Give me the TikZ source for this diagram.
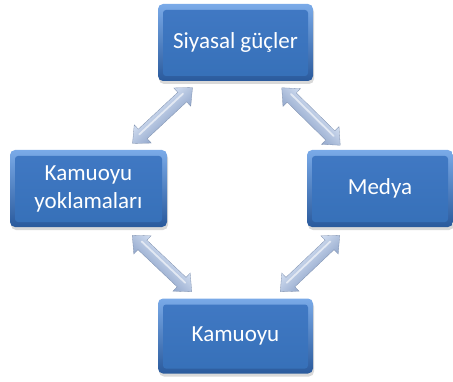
\documentclass[tikz,border=0pt]{standalone}
\usepackage{fontspec}
\setmainfont{Carlito}
\usetikzlibrary{shadows,calc}
\definecolor{boxtop}{HTML}{7AAAE8}
\definecolor{boxbot}{HTML}{2A5A9C}
\definecolor{intop}{HTML}{4179C4}
\definecolor{inbot}{HTML}{3670B8}
\definecolor{arrlight}{HTML}{D2DEF1}
\definecolor{arrdark}{HTML}{93A8CC}
\tikzset{
  box/.style={rounded corners=5pt, minimum height=77pt, text=white,
    font=\fontsize{23}{28}\selectfont, align=center,
    top color=boxtop, bottom color=boxbot,
    drop shadow={shadow xshift=1pt, shadow yshift=-3pt, opacity=0.3},
    path picture={\shade[top color=intop, bottom color=inbot, rounded corners=3pt]
      ([shift={(5pt,-6pt)}]path picture bounding box.north west) rectangle
      ([shift={(-5pt,5pt)}]path picture bounding box.south east);}},
  blk/.style={top color=arrlight, bottom color=arrdark, draw=arrdark!85!black, line width=0.3pt}
}
\newcommand\blockarrow[4]{%
  \coordinate (#4) at (#1,#2);
  \begin{scope}[transform canvas={shift={(#1,#2)}, rotate=#3}]
    \path[blk] (-41,0) -- (-27,12.5) -- (-27,6.5) -- (27,6.5) -- (27,12.5) -- (41,0)
      -- (27,-12.5) -- (27,-6.5) -- (-27,-6.5) -- (-27,-12.5) -- cycle;
    \draw[white, opacity=0.6, line width=1.8pt, line cap=round] (-30,2) -- (30,2);
  \end{scope}}
\begin{document}
\begin{tikzpicture}[x=1pt,y=1pt]
\useasboundingbox (0,0) rectangle (453,381);
\node[box, minimum width=155pt] (sg) at (235.5,338.5) {Siyasal güçler};
\node[box, minimum width=157pt] (ky) at (88.5,192.5) {Kamuoyu\\yoklamaları};
\node[box, minimum width=146pt] (md) at (380,192.5) {Medya};
\node[box, minimum width=155pt, minimum height=75pt] (ku) at (235.5,45) {Kamuoyu};
\blockarrow{162.5}{265.5}{43}{a1}
\blockarrow{311}{264.5}{-44.5}{a2}
\blockarrow{310}{117.5}{43.5}{a3}
\blockarrow{162}{117.5}{-43.5}{a4}
\end{tikzpicture}
\end{document}
